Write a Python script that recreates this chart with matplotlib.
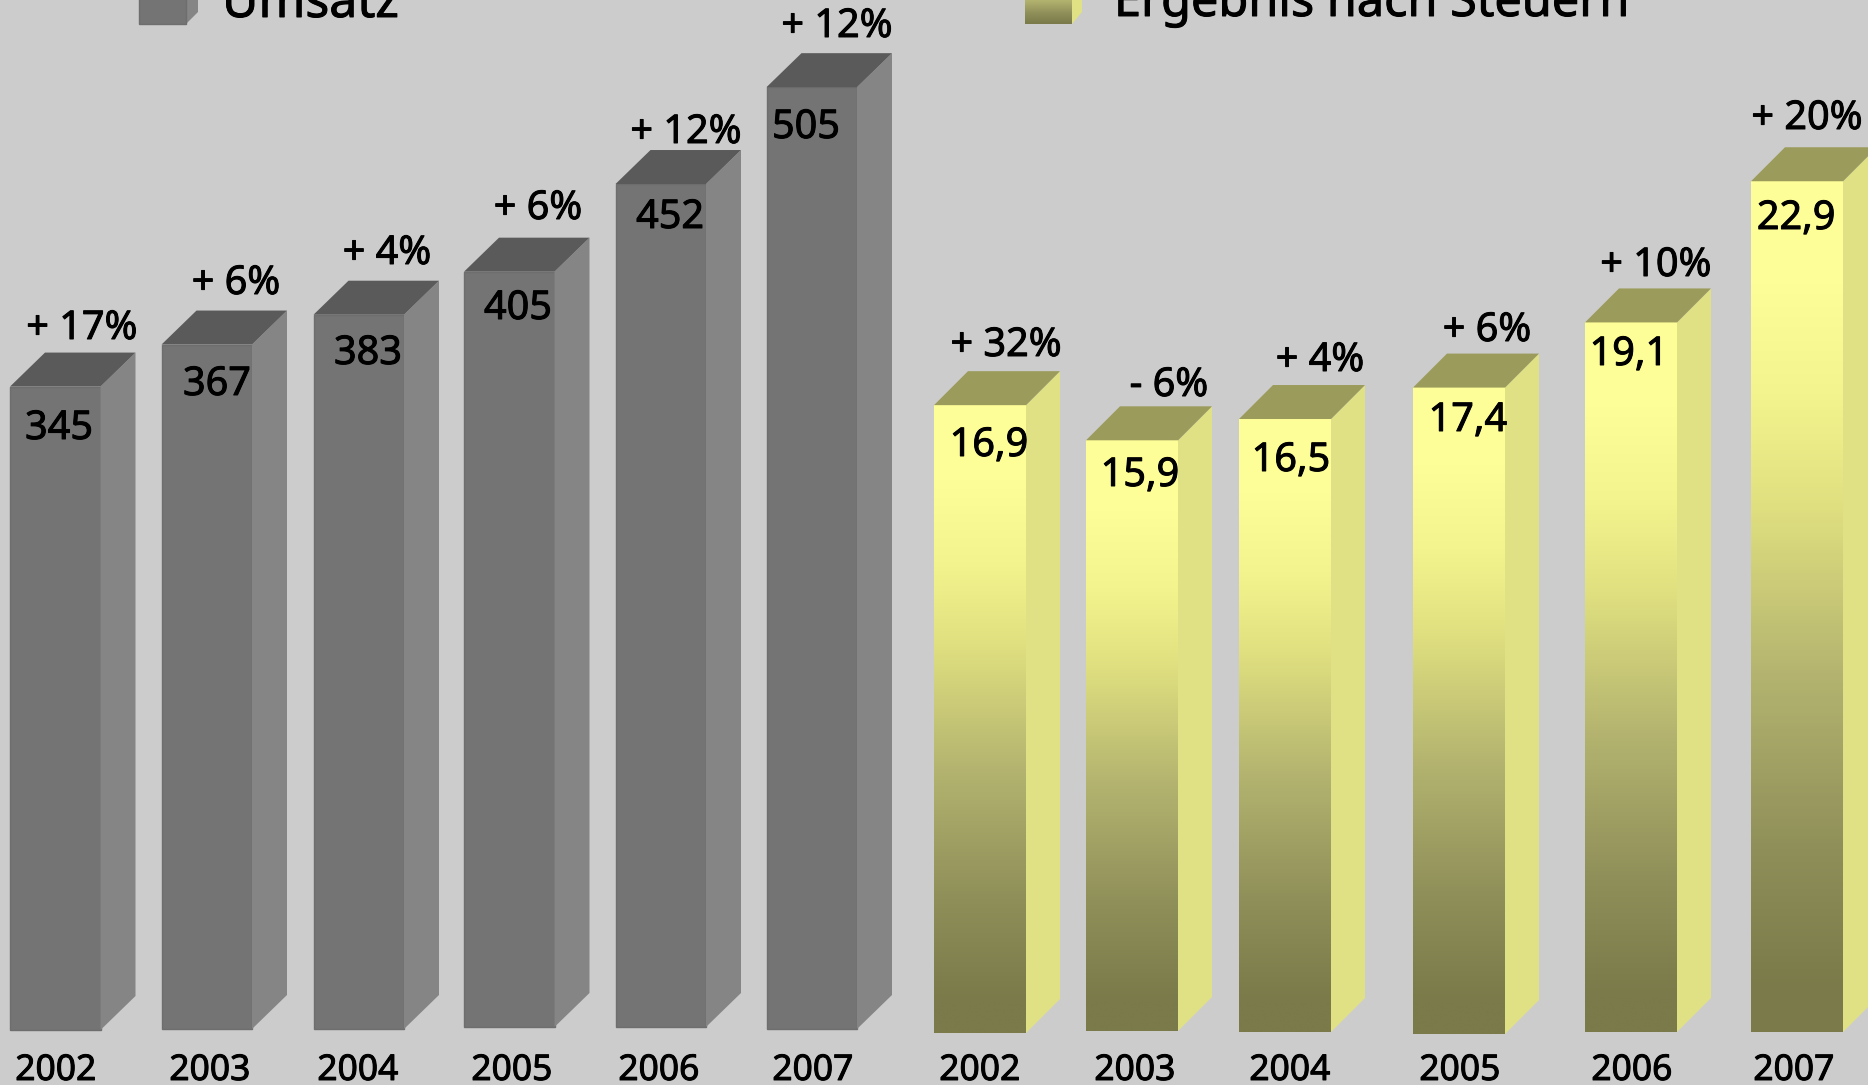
import numpy as np
from matplotlib import pyplot as plt
from matplotlib import patheffects as pe
from matplotlib.colors import LinearSegmentedColormap
from matplotlib.patches import Polygon

plt.rcParams['font.family'] = ['Noto Sans', 'DejaVu Sans']

years = ['2002', '2003', '2004', '2005', '2006', '2007']
umsatz = [345, 367, 383, 405, 452, 505]
umsatz_growth = ['+ 17%', '+ 6%', '+ 4%', '+ 6%', '+ 12%', '+ 12%']
ergebnis = [16.9, 15.9, 16.5, 17.4, 19.1, 22.9]
ergebnis_labels = ['16,9', '15,9', '16,5', '17,4', '19,1', '22,9']
ergebnis_growth = ['+ 32%', '- 6%', '+ 4%', '+ 6%', '+ 10%', '+ 20%']

# layout in pixels of the 1868x1085 picture
W, H = 1868, 1085
gray_left = [10, 161.5, 313.5, 464, 615.5, 766.5]
gray_base = [1030, 1029, 1029, 1027, 1027, 1029]
gray_scale = 1.865
gray_width = 90.5
gray_depth = 35
gray_value_xy = [(59, 439), (217, 395), (368, 364), (518, 319), (670, 228), (806, 138)]
gray_growth_xy = [(82, 339), (236, 294), (387, 264), (538, 219), (686, 143), (837, 37)]
gray_year_x = [56, 210, 358, 512, 659, 813]

yellow_left = [934, 1086, 1239, 1413, 1585, 1751]
yellow_base = [1033, 1031, 1032, 1034, 1032, 1032]
yellow_scale = 37.15
yellow_width = 92
yellow_depth = 34
yellow_value_xy = [(989, 456), (1140, 486), (1291, 471), (1468, 431), (1629, 365), (1796, 229)]
yellow_growth_xy = [(1006, 356), (1169, 396), (1320, 371), (1487, 341), (1656, 276), (1807, 129)]
yellow_year_x = [980, 1135, 1290, 1460, 1632, 1794]
year_baseline = 1080

BG = '#cccccc'
yellow_cmap = LinearSegmentedColormap.from_list(
    'yellow', [(0, '#7a7a4a'), (0.05, '#7a7a4a'), (0.22, '#90905a'), (0.42, '#b4b470'),
               (0.62, '#e0e080'), (0.75, '#f4f48e'), (0.88, '#fefe98'), (1, '#ffff99')])
heavy = [pe.withStroke(linewidth=0.7, foreground='black')]


def value_axes(fig, scale):
    # full-figure axes whose y axis runs in chart values, zero at pixel row 1030
    ax = fig.add_axes([0, 0, 1, 1], facecolor='none')
    ax.set_xlim(0, W)
    ax.set_ylim(-(H - 1030) / scale, 1030 / scale)
    ax.axis('off')
    return ax


def draw_block(ax, left, width, bottom, top, dx, dy, side, roof):
    ax.add_patch(Polygon([(left + width, bottom), (left + width + dx, bottom + dy),
                          (left + width + dx, top + dy), (left + width, top)],
                         closed=True, fc=side, ec='none'))
    ax.add_patch(Polygon([(left, top), (left + width, top),
                          (left + width + dx, top + dy), (left + dx, top + dy)],
                         closed=True, fc=roof, ec='none'))


def label(ax, x, y, s, size):
    ax.text(x, y, s, fontsize=size, ha='center', va='baseline', color='black', path_effects=heavy)


fig = plt.figure(figsize=(W / 100, H / 100), dpi=100, facecolor=BG)

ax_gray = value_axes(fig, gray_scale)
for left, base, val in zip(gray_left, gray_base, umsatz):
    bottom = (1030 - base) / gray_scale
    ax_gray.bar(left, val, width=gray_width, bottom=bottom, align='edge', color='#747474',
                edgecolor='#6e6e6e', linewidth=1)
    draw_block(ax_gray, left, gray_width, bottom, bottom + val, gray_depth, 34 / gray_scale, '#858585', '#5a5a5a')

ax_yellow = value_axes(fig, yellow_scale)
gradient = np.linspace(1, 0, 256).reshape(-1, 1)
for left, base, val in zip(yellow_left, yellow_base, ergebnis):
    bottom = (1030 - base) / yellow_scale
    ax_yellow.imshow(gradient, cmap=yellow_cmap, vmin=0, vmax=1, aspect='auto',
                     extent=(left, left + yellow_width, bottom, bottom + val))
    draw_block(ax_yellow, left, yellow_width, bottom, bottom + val, yellow_depth, 34 / yellow_scale,
               '#e0e085', '#9b9b5b')
ax_yellow.set_xlim(0, W)
ax_yellow.set_ylim(-(H - 1030) / yellow_scale, 1030 / yellow_scale)

# overlay in pixel coordinates for the texts and the legend
ax = fig.add_axes([0, 0, 1, 1], facecolor='none')
ax.set_xlim(0, W)
ax.set_ylim(H, 0)
ax.axis('off')

fs = 28.5
for (x, y), val in zip(gray_value_xy, umsatz):
    label(ax, x, y, str(val), fs)
for (x, y), s in zip(gray_growth_xy, umsatz_growth):
    label(ax, x, y, s, fs)
for x, year in zip(gray_year_x, years):
    label(ax, x, year_baseline, year, 25.5)
for (x, y), s in zip(yellow_value_xy, ergebnis_labels):
    label(ax, x, y, s, fs)
for (x, y), s in zip(yellow_growth_xy, ergebnis_growth):
    label(ax, x, y, s, fs)
for x, year in zip(yellow_year_x, years):
    label(ax, x, year_baseline, year, 25.5)

# legend keys, cut off by the top edge like in the original
ax.add_patch(Polygon([(186, 24), (198, 12), (198, -10), (186, 0)], closed=True, fc='#858585', ec='none'))
ax.add_patch(plt.Rectangle((139, -5), 46.5, 29, fc='#747474', ec='#6e6e6e', lw=1))
ax.add_patch(Polygon([(1072, 24), (1082, 12), (1082, -10), (1072, 0)], closed=True, fc='#e0e085', ec='none'))
ax.imshow(np.linspace(0.45, 0.05, 64).reshape(-1, 1), cmap=yellow_cmap, vmin=0, vmax=1, aspect='auto',
          extent=(1025, 1072, 24, -2))
ax.set_xlim(0, W)
ax.set_ylim(H, 0)
ax.text(222, 17, 'Umsatz', fontsize=36, ha='left', va='baseline', color='black', path_effects=heavy)
ax.text(1114, 16, 'Ergebnis nach Steuern', fontsize=35, ha='left', va='baseline', color='black', path_effects=heavy)

fig.savefig('out.png', dpi=100, facecolor=BG)
